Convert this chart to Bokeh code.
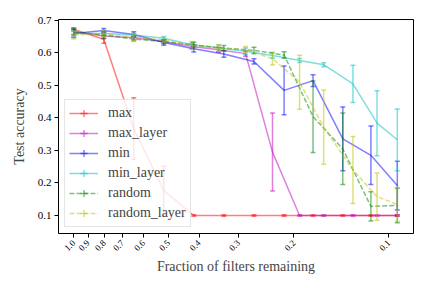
import math
from bokeh.plotting import figure
from bokeh.models import (FixedTicker, Range1d, Legend, LegendItem, ColumnDataSource)
from bokeh.embed import file_html
from bokeh.resources import INLINE

# ---------------- data ----------------
X_TICKS = [1.0, 0.9, 0.8, 0.7, 0.6, 0.5, 0.4, 0.3, 0.2, 0.1]
Y_TICKS = [0.1, 0.2, 0.3, 0.4, 0.5, 0.6, 0.7]

x_global = [1.0, 0.803, 0.645, 0.518, 0.416, 0.334, 0.268, 0.215, 0.174, 0.140, 0.114, 0.094]
x_layer = [1.0, 0.803, 0.645, 0.518, 0.421, 0.347, 0.285, 0.234, 0.192, 0.161, 0.130, 0.109, 0.094]

max_y = [0.672, 0.642, 0.367, 0.177, 0.100, 0.100, 0.100, 0.100, 0.100, 0.100, 0.100, 0.100]
max_e = [0.006, 0.012, 0.095, 0.075, 0.002, 0.002, 0.002, 0.002, 0.002, 0.002, 0.002, 0.002]

max_layer_y = [0.665, 0.652, 0.647, 0.635, 0.620, 0.610, 0.598, 0.295, 0.100, 0.100, 0.100, 0.100, 0.100]
max_layer_e = [0.008, 0.008, 0.006, 0.006, 0.008, 0.008, 0.008, 0.120, 0.002, 0.002, 0.002, 0.002, 0.002]

min_y = [0.660, 0.669, 0.657, 0.632, 0.613, 0.597, 0.574, 0.485, 0.515, 0.336, 0.285, 0.192]
min_e = [0.012, 0.006, 0.008, 0.008, 0.010, 0.010, 0.008, 0.075, 0.018, 0.098, 0.090, 0.075]

min_layer_y = [0.660, 0.660, 0.655, 0.645, 0.625, 0.615, 0.605, 0.592, 0.577, 0.564, 0.505, 0.384, 0.333]
min_layer_e = [0.010, 0.008, 0.006, 0.006, 0.008, 0.010, 0.010, 0.008, 0.006, 0.006, 0.057, 0.100, 0.095]

random_y = [0.665, 0.655, 0.643, 0.635, 0.625, 0.615, 0.608, 0.594, 0.404, 0.305, 0.128, 0.131]
random_e = [0.010, 0.010, 0.006, 0.006, 0.008, 0.008, 0.010, 0.010, 0.110, 0.110, 0.045, 0.053]

random_layer_y = [0.655, 0.660, 0.648, 0.640, 0.623, 0.615, 0.610, 0.583, 0.510, 0.372, 0.240, 0.158, 0.134]
random_layer_e = [0.012, 0.010, 0.010, 0.008, 0.012, 0.010, 0.010, 0.020, 0.083, 0.114, 0.103, 0.073, 0.052]

SERIES = [
    ("max", x_global, max_y, max_e, (255, 0, 0), "solid"),
    ("max_layer", x_layer, max_layer_y, max_layer_e, (191, 0, 191), "solid"),
    ("min", x_global, min_y, min_e, (0, 0, 255), "solid"),
    ("min_layer", x_layer, min_layer_y, min_layer_e, (0, 191, 191), "solid"),
    ("random", x_global, random_y, random_e, (0, 128, 0), "5 2"),
    ("random_layer", x_layer, random_layer_y, random_layer_e, (191, 191, 0), "5 2"),
]

FONT = "Liberation Serif"

# ---------------- figure ----------------
p = figure(width=432, height=288, x_axis_type="log", output_backend="svg",
           toolbar_location=None,
           x_range=Range1d(1.118, 0.0835), y_range=Range1d(0.0446, 0.703),
           min_border_left=58, min_border_right=19, min_border_top=19,
           min_border_bottom=55)
p.grid.visible = False
p.outline_line_color = "black"
p.outline_line_width = 1
p.background_fill_color = "white"

items = []
for name, xs, ys, es, rgb, dash in SERIES:
    src = ColumnDataSource(dict(
        x=xs, y=ys,
        lo=[y - e for y, e in zip(ys, es)],
        hi=[y + e for y, e in zip(ys, es)],
    ))
    col = "#%02x%02x%02x" % rgb
    ln = p.line("x", "y", source=src, line_color=col, line_alpha=0.5,
                line_width=1.5, line_dash=dash)
    p.segment(x0="x", y0="lo", x1="x", y1="hi", source=src, line_color=col,
              line_alpha=0.5, line_width=1.5)
    p.scatter("x", "lo", source=src, marker="dash", size=5, line_color=col,
              line_alpha=0.5, line_width=1.5)
    p.scatter("x", "hi", source=src, marker="dash", size=5, line_color=col,
              line_alpha=0.5, line_width=1.5)
    lg = p.scatter(x=[float("nan")], y=[float("nan")], marker="cross", size=12,
                   line_color=col, line_alpha=0.5, line_width=1.5)
    items.append(LegendItem(label=name, renderers=[ln, lg]))

legend = Legend(items=items, location="bottom_left", margin=6, padding=4,
                spacing=2, glyph_height=18, glyph_width=29, label_height=18,
                label_standoff=10, label_text_font=FONT,
                label_text_font_size="14px", border_line_color="#cccccc",
                border_line_width=1, background_fill_alpha=0.8)
p.add_layout(legend)

# axes
p.xaxis.ticker = FixedTicker(ticks=X_TICKS)
p.xaxis.major_label_overrides = {t: "%.1f" % t for t in X_TICKS}
p.xaxis.major_label_orientation = math.pi / 4
p.xaxis.minor_tick_line_color = None
p.yaxis.ticker = FixedTicker(ticks=Y_TICKS)
p.yaxis.major_label_overrides = {t: "%.1f" % t for t in Y_TICKS}
p.yaxis.minor_tick_line_color = None
for ax in (p.xaxis, p.yaxis):
    ax.major_tick_in = 0
    ax.major_tick_out = 4
    ax.axis_line_color = None
    ax.major_tick_line_color = "black"
    ax.major_label_text_font = FONT
    ax.axis_label_text_font = FONT
    ax.axis_label_text_font_style = "normal"
    ax.axis_label_text_font_size = "14px"
    ax.major_label_text_color = "black"
p.xaxis.major_label_text_font_size = "9px"
p.yaxis.major_label_text_font_size = "11px"
p.xaxis.axis_label = "Fraction of filters remaining"
p.yaxis.axis_label = "Test accuracy"
p.xaxis.axis_label_standoff = 2
p.yaxis.axis_label_standoff = 8
p.xaxis.major_label_standoff = 4
p.yaxis.major_label_standoff = 3

open("out.html", "w").write(file_html(p, INLINE))
